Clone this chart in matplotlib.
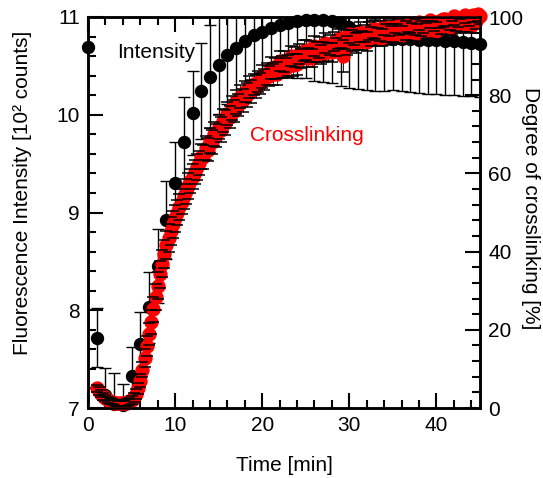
import matplotlib
matplotlib.use("Agg")
import matplotlib.pyplot as plt
from matplotlib.ticker import MultipleLocator

plt.rcParams['font.family'] = ['Liberation Sans', 'DejaVu Sans']
plt.rcParams['font.size'] = 15

# Fluorescence intensity (left axis), one point per minute
t_int = list(range(0, 46))
intensity = [10.69, 7.72, 7.13, 7.04, 7.03, 7.33, 7.65, 8.03, 8.45, 8.92,
             9.30, 9.72, 10.02, 10.24, 10.39, 10.51, 10.61, 10.68, 10.75, 10.82,
             10.85, 10.89, 10.92, 10.94, 10.96, 10.97, 10.97, 10.97, 10.96, 10.94,
             10.90, 10.86, 10.82, 10.79, 10.77, 10.77, 10.77, 10.77, 10.76, 10.76,
             10.76, 10.75, 10.75, 10.74, 10.73, 10.72]
int_err = [0.0, 0.30, 0.28, 0.32, 0.22, 0.29, 0.33, 0.36, 0.38, 0.40,
           0.42, 0.46, 0.43, 0.49, 0.53, 0.50, 0.50, 0.50, 0.50, 0.49,
           0.49, 0.50, 0.52, 0.55, 0.58, 0.59, 0.62, 0.63, 0.64, 0.65,
           0.63, 0.60, 0.57, 0.55, 0.53, 0.52, 0.53, 0.54, 0.54, 0.55,
           0.55, 0.55, 0.55, 0.55, 0.54, 0.54]

# Degree of crosslinking (right axis), every 0.25 min from 1.0 to 45.0
t_cross = [1.0 + 0.25 * i for i in range(177)]
crosslink = [5.0, 4.3, 3.6, 3.0, 2.5, 2.1, 1.8, 1.6,
             1.4, 1.3, 1.2, 1.2, 1.2, 1.3, 1.4, 1.7,
             2.1, 2.7, 3.6, 5.0, 7.0, 9.8, 12.8, 15.9,
             19.0, 22.0, 25.2, 28.3, 31.3, 34.2, 36.9, 39.4,
             41.6, 43.5, 45.3, 47.0, 48.5, 50.0, 51.4, 52.8,
             54.1, 55.4, 56.7, 58.0, 59.2, 60.4, 61.6, 62.7,
             64.3, 64.2, 66.4, 66.1, 68.3, 68.0, 70.1, 69.7,
             71.9, 71.2, 73.5, 73.0, 75.3, 74.5, 76.8, 76.0,
             78.3, 77.4, 79.6, 78.7, 80.9, 80.0, 82.0, 81.0,
             82.8, 82.2, 83.5, 83.0, 84.8, 84.1, 85.5, 84.9,
             87.0, 85.3, 86.9, 85.5, 88.7, 87.2, 88.6, 86.9,
             87.6, 90.0, 87.8, 89.7, 87.9, 90.6, 89.4, 91.4,
             91.5, 89.6, 91.1, 89.5, 92.6, 91.0, 92.3, 90.4,
             91.0, 93.4, 91.1, 92.9, 91.0, 93.7, 92.4, 94.3,
             94.6, 90.0, 94.3, 92.7, 95.7, 94.0, 95.3, 93.4,
             93.9, 96.2, 93.9, 95.7, 93.7, 96.3, 95.1, 96.9,
             96.9, 94.9, 96.4, 94.7, 97.7, 96.0, 97.2, 95.3,
             95.8, 98.0, 95.7, 97.4, 95.4, 97.9, 96.6, 98.3,
             98.1, 96.1, 97.5, 95.8, 98.8, 97.1, 98.3, 96.4,
             96.9, 99.2, 96.7, 98.5, 96.5, 99.1, 97.8, 99.6,
             99.6, 97.6, 98.9, 97.2, 100.2, 98.5, 99.6, 97.7,
             98.2, 100.5, 98.0, 99.8, 97.8, 100.4, 99.0, 100.8,
             100.2]
cross_err = [1.0, 1.0, 0.9, 0.9, 0.8, 0.8, 0.8, 0.7,
             0.7, 0.7, 0.7, 0.7, 0.7, 0.8, 0.8, 0.9,
             1.0, 1.1, 1.2, 1.4, 1.6, 1.9, 2.2, 2.5,
             2.8, 3.0, 3.2, 3.3, 3.4, 3.5, 3.5, 3.5,
             3.6, 3.5, 3.6, 3.4, 3.5, 3.3, 3.4, 3.2,
             3.3, 3.1, 3.3, 3.0, 3.2, 3.1, 3.3, 3.0,
             3.2, 3.0, 3.1, 2.9, 3.2, 3.0, 3.1, 2.9,
             3.0, 3.2, 2.9, 3.1, 3.0, 2.8, 3.1, 2.9,
             3.0, 2.8, 3.0, 2.9, 2.7, 3.0, 2.8, 2.9,
             2.7, 2.9, 2.8, 2.6, 2.9, 2.7, 2.8, 2.6,
             2.8, 2.6, 2.7, 2.9, 2.6, 2.8, 2.7, 2.5,
             2.7, 2.6, 2.8, 2.5, 2.7, 2.6, 2.4, 2.7,
             2.6, 2.5, 2.7, 2.4, 2.6, 2.5, 2.7, 2.4,
             2.6, 2.5, 2.3, 2.6, 2.4, 2.5, 2.3, 2.6,
             2.5, 4.0, 2.4, 2.5, 2.3, 2.6, 2.4, 2.5,
             2.3, 2.5, 2.4, 2.2, 2.5, 2.3, 2.4, 2.2,
             2.4, 2.3, 2.5, 2.2, 2.4, 2.3, 2.1, 2.4,
             2.3, 2.2, 2.4, 2.1, 2.3, 2.2, 2.4, 2.1,
             2.2, 2.3, 2.1, 2.3, 2.2, 2.0, 2.3, 2.1,
             2.2, 2.0, 2.2, 2.1, 2.3, 2.0, 2.2, 2.1,
             2.0, 2.2, 2.1, 1.9, 2.2, 2.0, 2.1, 1.9,
             2.1, 2.0, 1.9, 2.1, 2.0, 1.8, 2.0, 1.9,
             1.9]

fig = plt.figure(figsize=(5.43, 4.78), dpi=100)
ax = fig.add_axes([88 / 543, 70 / 478, 392 / 543, 391 / 478])

# intensity: error bars clipped, markers allowed over the frame
ax.errorbar(t_int, intensity, yerr=int_err, fmt='none', ecolor='black',
            elinewidth=1.0, capsize=4.5, capthick=1.0, zorder=2)
ax.plot(t_int, intensity, 'o', color='black', markersize=8.6,
        clip_on=False, zorder=3)

ax.set_xlim(0, 45)
ax.set_ylim(7, 11)
ax.xaxis.set_major_locator(MultipleLocator(10))
ax.xaxis.set_minor_locator(MultipleLocator(2))
ax.yaxis.set_major_locator(MultipleLocator(1))
ax.yaxis.set_minor_locator(MultipleLocator(0.2))
ax.tick_params(which='both', direction='in', top=True, right=False, width=1.5)
ax.tick_params(which='major', length=10.5, pad=6)
ax.tick_params(which='minor', length=5.5)
ax.set_xlabel('Time [min]', va='center')
ax.xaxis.set_label_coords(0.5, -0.146)
ax.set_ylabel('Fluorescence Intensity [10² counts]', va='center')
ax.yaxis.set_label_coords(-0.168, 0.55)
for s in ax.spines.values():
    s.set_linewidth(1.8)

ax.text(3.4, 10.64, 'Intensity', color='black', va='center', ha='left')

# crosslinking on the right axis, caps drawn over the red markers
ax2 = ax.twinx()
ax2.plot(t_cross, crosslink, 'o', color='red', markersize=9.3,
         clip_on=False, zorder=2)
eb = ax2.errorbar(t_cross, crosslink, yerr=cross_err, fmt='none', ecolor='black',
                  elinewidth=0.6, capsize=4.5, capthick=1.1, zorder=1)
for cap in eb[1]:
    cap.set_zorder(4)
ax2.set_ylim(0, 100)
ax2.yaxis.set_major_locator(MultipleLocator(20))
ax2.yaxis.set_minor_locator(MultipleLocator(4))
ax2.tick_params(which='both', direction='in', width=1.5)
ax2.tick_params(which='major', length=10.5, pad=6)
ax2.tick_params(which='minor', length=5.5)
ax2.set_ylabel('Degree of crosslinking [%]', rotation=270, va='center')
ax2.yaxis.set_label_coords(1.128, 0.512)
for s in ax2.spines.values():
    s.set_linewidth(1.8)

ax.text(18.6, 9.79, 'Crosslinking', color='red', va='center', ha='left')

fig.savefig('out.png', dpi=100)
